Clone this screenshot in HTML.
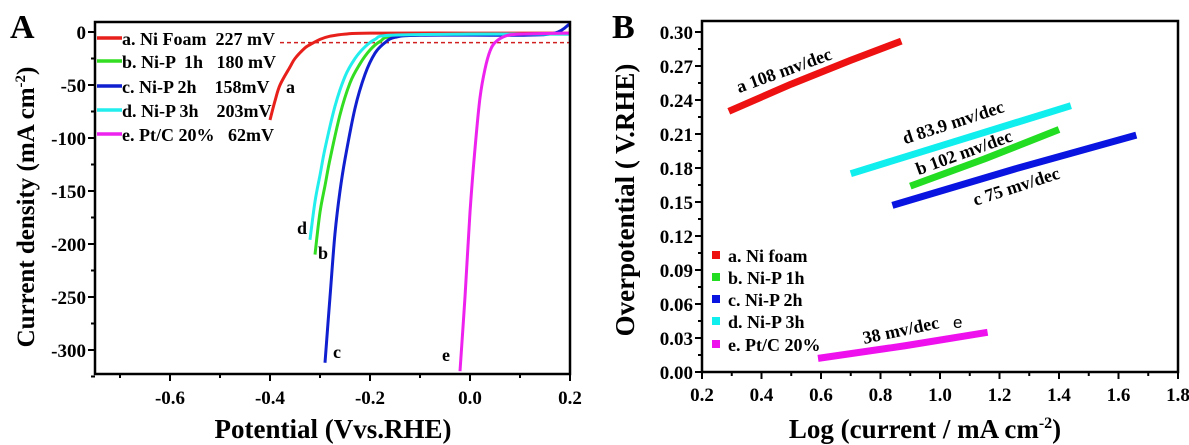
<!DOCTYPE html>
<html><head><meta charset="utf-8"><style>
html,body{margin:0;padding:0;background:#fff;}
svg{display:block;font-family:"Liberation Serif",serif;font-weight:bold;}
</style></head><body>
<svg id="s" width="1189" height="445" viewBox="0 0 1189 445" xmlns="http://www.w3.org/2000/svg">
<text x="10" y="38" font-size="34">A</text>
<text x="612" y="38" font-size="34">B</text>
<g id="ga"></g>
<g id="gb"></g>
</svg>
<script>
// ---- Panel A data ----
const aXTicks = [-0.6,-0.4,-0.2,0.0,0.2];
const aYTicks = [0,-50,-100,-150,-200,-250,-300];
const aNames = ['a','b','c','d','e'];
const aColors = ['#e8201c','#33dd22','#1020d0','#22eeee','#ee22ee'];
const aLegend = ['a. Ni Foam  227 mV','b. Ni-P  1h   180 mV','c. Ni-P 2h    158mV','d. Ni-P 3h    203mV','e. Pt/C 20%   62mV'];
const aSerA_x = [-0.40,-0.39,-0.38,-0.36,-0.35,-0.33,-0.32,-0.30,-0.28,-0.25,-0.2,0.0,0.2];
const aSerA_y = [-83,-65,-50,-33,-25,-15,-12,-7,-4,-2,-1,-1,-1];
const aSerB_x = [-0.31,-0.30,-0.29,-0.28,-0.26,-0.24,-0.22,-0.20,-0.18,-0.15,0.0,0.2];
const aSerB_y = [-210,-170,-145,-120,-78,-48,-30,-17,-9,-4,-2,-2];
const aSerC_x = [-0.29,-0.28,-0.27,-0.26,-0.25,-0.23,-0.21,-0.19,-0.17,-0.15,-0.1,0.1,0.17,0.2];
const aSerC_y = [-312,-250,-190,-150,-120,-72,-40,-20,-10,-5,-3,-3,-1,8];
const aSerD_x = [-0.32,-0.31,-0.30,-0.29,-0.27,-0.25,-0.23,-0.21,-0.19,-0.16,0.0,0.2];
const aSerD_y = [-196,-160,-135,-110,-70,-42,-25,-14,-7,-3,-2,-2];
const aSerE_x = [-0.02,-0.01,0.0,0.01,0.02,0.03,0.04,0.05,0.07,0.1,0.2];
const aSerE_y = [-320,-250,-170,-110,-62,-35,-18,-10,-4,-2,-1];
const aRef = -10;
// ---- Panel B data ----
const bXTicks = [0.2,0.4,0.6,0.8,1.0,1.2,1.4,1.6,1.8];
const bYTicks = [0.00,0.03,0.06,0.09,0.12,0.15,0.18,0.21,0.24,0.27,0.30];
const bLegend = ['a. Ni foam','b. Ni-P 1h','c. Ni-P 2h','d. Ni-P 3h','e. Pt/C 20%'];
const bSerA_x = [0.29,0.5,0.7,0.87]; const bSerA_y = [0.230,0.254,0.275,0.292];
const bSerB_x = [0.90,1.15,1.40]; const bSerB_y = [0.164,0.188,0.214];
const bSerC_x = [0.84,1.25,1.66]; const bSerC_y = [0.147,0.179,0.209];
const bSerD_x = [0.70,1.07,1.44]; const bSerD_y = [0.175,0.205,0.235];
const bSerE_x = [0.59,0.88,1.16]; const bSerE_y = [0.012,0.023,0.035];

const NS='http://www.w3.org/2000/svg';
function mk(parent,tag,attrs,text){const e=document.createElementNS(NS,tag);for(const k in attrs)e.setAttribute(k,attrs[k]);if(text!==undefined)e.textContent=text;parent.appendChild(e);return e;}
function smooth(P){let d='M'+P[0][0].toFixed(1)+','+P[0][1].toFixed(1);
 for(let i=0;i<P.length-1;i++){const p0=P[Math.max(0,i-1)],p1=P[i],p2=P[i+1],p3=P[Math.min(P.length-1,i+2)];
  const c1=[p1[0]+(p2[0]-p0[0])/6,p1[1]+(p2[1]-p0[1])/6],c2=[p2[0]-(p3[0]-p1[0])/6,p2[1]-(p3[1]-p1[1])/6];
  d+=' C'+c1.map(v=>v.toFixed(1)).join(',')+' '+c2.map(v=>v.toFixed(1)).join(',')+' '+p2[0].toFixed(1)+','+p2[1].toFixed(1);}
 return d;}

// Panel A
const ga=document.getElementById('ga');
const AL=95,AR=570,AT=22,AB=374;
const ax=v=>470+v*500;
function axy(v){return 32 - v*53/50;}
const aXs=[aSerA_x,aSerB_x,aSerC_x,aSerD_x,aSerE_x], aYs=[aSerA_y,aSerB_y,aSerC_y,aSerD_y,aSerE_y];
let cp=mk(ga,'clipPath',{id:'ca'});mk(cp,'rect',{x:AL,y:AT,width:AR-AL,height:AB-AT});
for(let k=-7;k<=2;k++){const v=k/10;const x=ax(v);const major=Math.abs(k)%2===0;
 const t=mk(ga,'line',{x1:x,x2:x,y1:AB,y2:AB+(major?7:4),stroke:'#000','stroke-width':2});
 }
aXTicks.forEach(v=>{const t=mk(ga,'text',{x:ax(v),y:AB+30,'font-size':19,'text-anchor':'middle'},v.toFixed(1));
 });
for(let v=0;v>=-325;v-=25){const y=axy(v);const major=v%50===0;
 const t=mk(ga,'line',{x1:AL-(major?7:4),x2:AL,y1:y,y2:y,stroke:'#000','stroke-width':2});
 }
aYTicks.forEach(v=>{const t=mk(ga,'text',{x:AL-9,y:axy(v)+7,'font-size':19,'text-anchor':'end'},String(v));
 });
let rl=mk(ga,'line',{x1:ax(-0.38),x2:ax(0.2),y1:axy(aRef),y2:axy(aRef),stroke:'#d02020','stroke-width':1.5,'stroke-dasharray':'4,3'});

const gAcl=mk(ga,'g',{'clip-path':'url(#ca)'});
aXs.forEach((xs,i)=>{const P=xs.map((x,j)=>[ax(x),axy(aYs[i][j])]);
 const p=mk(gAcl,'path',{d:smooth(P),fill:'none',stroke:aColors[i],'stroke-width':3,'stroke-linejoin':'round'});
 });
mk(ga,'rect',{x:AL,y:AT,width:AR-AL,height:AB-AT,fill:'none',stroke:'#000','stroke-width':2.5});
const aLy=[39,62,87,111,135];
aLegend.forEach((s,i)=>{const l=mk(ga,'line',{x1:AL+2,x2:AL+27,y1:aLy[i]-1,y2:aLy[i]-1,stroke:aColors[i],'stroke-width':3.5});
 
 const t=mk(ga,'text',{x:AL+27,y:aLy[i]+6,'font-size':18},s);
 t.style.whiteSpace='pre';
 });
const aLab=[[286,93,'a'],[318,259,'b'],[333,358,'c'],[297,234,'d'],[442,361,'e']];
aLab.forEach(l=>{const t=mk(ga,'text',{x:l[0],y:l[1],'font-size':18},l[2]);
 });
let xt=mk(ga,'text',{x:333,y:438,'font-size':27,'text-anchor':'middle'},'Potential (Vvs.RHE)');

let yt=mk(ga,'text',{x:0,y:0,'font-size':25,'text-anchor':'middle',transform:'translate(34,207) rotate(-90)'});
yt.innerHTML='Current density (mA cm<tspan dy="-9" font-size="15">-2</tspan><tspan dy="9">)</tspan>';


// Panel B
const gb=document.getElementById('gb');
const BL=702,BR=1178,BT=21,BB=372;
const bx=v=>BL+(v-0.2)*(BR-BL)/1.6;
const by=v=>372-v*(340/0.30);
for(let k=2;k<=18;k++){const x=bx(k/10);const major=k%2===0;
 const t=mk(gb,'line',{x1:x,x2:x,y1:BB,y2:BB+(major?7:4),stroke:'#000','stroke-width':2});
 }
bXTicks.forEach(v=>{const t=mk(gb,'text',{x:bx(v),y:BB+29,'font-size':19,'text-anchor':'middle'},v.toFixed(1));
 });
for(let k=0;k<=20;k++){const v=k*0.015;const y=by(v);const major=k%2===0;
 const t=mk(gb,'line',{x1:BL-(major?7:4),x2:BL,y1:y,y2:y,stroke:'#000','stroke-width':2});
 }
bYTicks.forEach(v=>{const t=mk(gb,'text',{x:BL-9,y:by(v)+7,'font-size':19,'text-anchor':'end'},v.toFixed(2));
 });
const bXs=[bSerA_x,bSerB_x,bSerC_x,bSerD_x,bSerE_x], bYs=[bSerA_y,bSerB_y,bSerC_y,bSerD_y,bSerE_y];
const bColors=['#ee1111','#22dd22','#0a14e0','#11eeee','#ee11ee'];
bXs.forEach((xs,i)=>{const pts=xs.map((x,j)=>bx(x).toFixed(1)+','+by(bYs[i][j]).toFixed(1)).join(' ');
 const p=mk(gb,'polyline',{points:pts,fill:'none',stroke:bColors[i],'stroke-width':7,'stroke-linejoin':'round'});
 });
mk(gb,'rect',{x:BL,y:BT,width:BR-BL,height:BB-BT,fill:'none',stroke:'#000','stroke-width':2.5});
const bLy=[256,278,300,322,345];
bLegend.forEach((s,i)=>{const r=mk(gb,'rect',{x:712,y:bLy[i]-5,width:8,height:8,fill:bColors[i]});
 
 const t=mk(gb,'text',{x:728,y:bLy[i]+6,'font-size':18},s);
 });
const bAnn=[[786,76,-20,'a 108 mv/dec','slope-label-a'],[966,158,-20,'b 102 mv/dec','slope-label-b'],[1018,192,-18,'c 75 mv/dec','slope-label-c'],[955,128,-18,'d 83.9 mv/dec','slope-label-d'],[902,336,-12,'38 mv/dec','slope-label-e']];
bAnn.forEach(a=>{const t=mk(gb,'text',{x:0,y:0,'font-size':18,'text-anchor':'middle',transform:`translate(${a[0]},${a[1]}) rotate(${a[2]})`},a[3]);
 });
let et=mk(gb,'text',{x:953,y:328,'font-size':17,'font-weight':'normal','font-family':'Liberation Sans, sans-serif'},'e');

let bxt=mk(gb,'text',{x:925,y:438,'font-size':27,'text-anchor':'middle'});
bxt.innerHTML='Log (current / mA cm<tspan dy="-10" font-size="16">-2</tspan><tspan dy="10">)</tspan>';

let byt=mk(gb,'text',{x:0,y:0,'font-size':27,'text-anchor':'middle',transform:'translate(634,200) rotate(-90)'},'Overpotential ( V.RHE)');

</script>
</body></html>
